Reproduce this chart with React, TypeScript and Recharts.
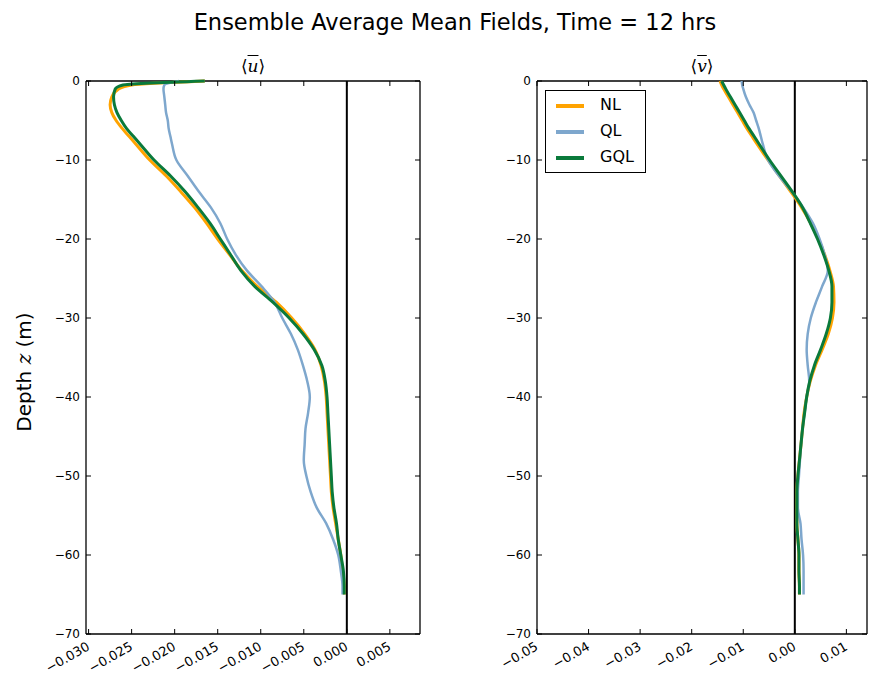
import React from 'react'
import { LineChart, Line, XAxis, YAxis, ReferenceLine, Legend } from 'recharts'

// depth levels (m), shared by every profile
const depth = [0, -0.5, -1, -2, -3, -4, -5, -6, -7, -8, -10, -12, -14, -16, -18, -20, -22, -24, -26, -28, -30, -32, -34, -36, -38, -40, -42, -44, -46, -48, -50, -52, -54, -56, -58, -60, -62, -64, -65]

// <u> profiles
const nlU = [-0.0165, -0.025, -0.0265, -0.0273, -0.0275, -0.0273, -0.0268, -0.0261, -0.0253, -0.0245, -0.0229, -0.021, -0.0193, -0.0177, -0.0163, -0.015, -0.0136, -0.0122, -0.0104, -0.0082, -0.0064, -0.0049, -0.0037, -0.003, -0.0026, -0.0024, -0.0023, -0.0022, -0.0021, -0.002, -0.0019, -0.0018, -0.0016, -0.0013, -0.001, -0.0007, -0.0005, -0.0003, -0.0003]
const qlU = [-0.0195, -0.0212, -0.0213, -0.0212, -0.0211, -0.021, -0.0208, -0.0207, -0.0205, -0.0203, -0.0198, -0.0185, -0.0172, -0.0158, -0.0147, -0.0139, -0.0129, -0.0116, -0.0099, -0.0084, -0.0075, -0.0065, -0.0057, -0.0051, -0.0046, -0.0043, -0.0045, -0.0048, -0.0049, -0.005, -0.0047, -0.0042, -0.0035, -0.0024, -0.0016, -0.001, -0.0007, -0.0005, -0.0005]
const gqlU = [-0.0165, -0.026, -0.0269, -0.0271, -0.027, -0.0267, -0.0262, -0.0256, -0.0248, -0.024, -0.0224, -0.0205, -0.0188, -0.0173, -0.0159, -0.0147, -0.0135, -0.0123, -0.0107, -0.0086, -0.0067, -0.0051, -0.0038, -0.0029, -0.0025, -0.0023, -0.0022, -0.0021, -0.002, -0.0019, -0.0018, -0.0017, -0.0015, -0.0012, -0.001, -0.0007, -0.0004, -0.0003, -0.0003]

// <v> profiles
const nlV = [-0.0145, -0.0142, -0.0138, -0.0129, -0.012, -0.0111, -0.0102, -0.0093, -0.0083, -0.0073, -0.0052, -0.003, -0.0008, 0.0013, 0.0031, 0.0046, 0.0058, 0.0068, 0.0075, 0.0076, 0.0073, 0.0065, 0.0053, 0.004, 0.003, 0.0023, 0.0018, 0.0015, 0.0012, 0.0009, 0.0006, 0.0004, 0.0004, 0.0004, 0.0006, 0.0008, 0.0008, 0.0009, 0.0009]
const qlV = [-0.0103, -0.0102, -0.01, -0.0095, -0.0088, -0.008, -0.0075, -0.007, -0.0066, -0.0062, -0.0052, -0.0031, -0.0006, 0.0016, 0.0035, 0.0048, 0.0058, 0.0064, 0.0053, 0.0041, 0.0031, 0.0025, 0.0023, 0.0025, 0.0028, 0.0023, 0.0019, 0.0015, 0.0012, 0.001, 0.0008, 0.0006, 0.0006, 0.0011, 0.0013, 0.0016, 0.0017, 0.0017, 0.0017]
const gqlV = [-0.0142, -0.0138, -0.0134, -0.0125, -0.0116, -0.0107, -0.0098, -0.0089, -0.0079, -0.0069, -0.0049, -0.0027, -0.0005, 0.0015, 0.003, 0.0044, 0.0056, 0.0066, 0.0072, 0.0072, 0.0069, 0.0061, 0.005, 0.0038, 0.0029, 0.0023, 0.0019, 0.0015, 0.0012, 0.0009, 0.0006, 0.0004, 0.0004, 0.0004, 0.0006, 0.0008, 0.0008, 0.0009, 0.0009]

const uTicks = [-0.03, -0.025, -0.02, -0.015, -0.01, -0.005, 0, 0.005]
const vTicks = [-0.05, -0.04, -0.03, -0.02, -0.01, 0, 0.01]
const depthTicks = [0, -10, -20, -30, -40, -50, -60, -70]

const series = [
  { key: 'nl', name: 'NL', color: '#FFA300', width: 3 },
  { key: 'ql', name: 'QL', color: '#7EA7CD', width: 2.5 },
  { key: 'gql', name: 'GQL', color: '#0A7A3B', width: 3 },
]

const uRows = depth.map((z, i) => ({ z, nl: nlU[i], ql: qlU[i], gql: gqlU[i] }))
const vRows = depth.map((z, i) => ({ z, nl: nlV[i], ql: qlV[i], gql: gqlV[i] }))

const FONT = '"DejaVu Sans", sans-serif'
const H = 675
const TOP = 81
const BOTTOM = 634
const YW = 40
const TICK = 5

const minus = (s: string) => s.replace('-', '\u2212')

const XTick = ({ x, payload, digits }: any) => {
  const ax = x + 2
  const ay = BOTTOM + 15
  return (
    <g>
      <line x1={x} x2={x} y1={BOTTOM} y2={BOTTOM - TICK} stroke="#000" />
      <line x1={x} x2={x} y1={TOP} y2={TOP + TICK} stroke="#000" />
      <text x={ax} y={ay} textAnchor="end" fontSize={13} fontFamily={FONT} fill="#000" transform={`rotate(-30 ${ax} ${ay})`}>
        {minus(Number(payload.value).toFixed(digits))}
      </text>
    </g>
  )
}

const YTick = ({ y, payload, left, right }: any) => (
  <g>
    <line x1={left} x2={left + TICK} y1={y} y2={y} stroke="#000" />
    <line x1={right} x2={right - TICK} y1={y} y2={y} stroke="#000" />
    <text x={left - 6} y={y} dy="0.35em" textAnchor="end" fontSize={12} fontFamily={FONT} fill="#000">
      {minus(String(payload.value))}
    </text>
  </g>
)

const LegendBox = ({ payload }: any) => {
  const items = series.map((s) => (payload || []).find((p: any) => p.value === s.name)).filter(Boolean)
  return (
    <div style={{ border: '1.5px solid #000', background: '#fff', width: 99, height: 81, boxSizing: 'content-box', fontFamily: FONT, fontSize: 16 }}>
      {items.map((p: any, i: number) => (
        <div key={i} style={{ position: 'relative', height: 26, top: 1 }}>
          <div style={{ position: 'absolute', left: 10, top: 12, width: 28, height: 3.5, background: p.color }} />
          <div style={{ position: 'absolute', left: 54, top: 3, lineHeight: '20px' }}>{p.value}</div>
        </div>
      ))}
    </div>
  )
}

const Panel = ({ rows, domain, ticks, digits, left, width, plotLeft, plotRight, legend }: any) => (
  <div style={{ position: 'absolute', left, top: 0 }}>
    <LineChart
      width={width}
      height={H}
      data={rows}
      layout="vertical"
      margin={{ top: TOP, right: left + width - plotRight, bottom: 0, left: plotLeft - left - YW }}
    >
      <XAxis
        type="number"
        domain={domain}
        ticks={ticks}
        allowDataOverflow
        interval={0}
        height={H - BOTTOM}
        axisLine={{ stroke: '#000', strokeWidth: 1.3 }}
        tickLine={false}
        tick={(p: any) => <XTick {...p} digits={digits} />}
      />
      <YAxis
        type="number"
        dataKey="z"
        domain={[-70, 0]}
        ticks={depthTicks}
        reversed
        interval={0}
        width={YW}
        axisLine={{ stroke: '#000', strokeWidth: 1.3 }}
        tickLine={false}
        tick={(p: any) => <YTick {...p} left={plotLeft - left} right={plotRight - left} />}
      />
      <ReferenceLine y={0} stroke="#000" strokeWidth={1.3} />
      <ReferenceLine x={domain[1]} stroke="#000" strokeWidth={1.3} />
      <ReferenceLine x={0} stroke="#000" strokeWidth={2} />
      {series.map((s) => (
        <Line
          key={s.key}
          dataKey={s.key}
          name={s.name}
          type="monotone"
          stroke={s.color}
          strokeWidth={s.width}
          dot={false}
          isAnimationActive={false}
        />
      ))}
      {legend && (
        <Legend
          layout="vertical"
          align="center"
          verticalAlign="middle"
          content={<LegendBox />}
          wrapperStyle={{ left: 545 - left, top: 90, width: 102, height: 84 }}
        />
      )}
    </LineChart>
  </div>
)

const MeanBracket = ({ letter, cx }: any) => (
  <div style={{ position: 'absolute', left: cx, top: 56, transform: 'translateX(-50%)', fontFamily: '"DejaVu Serif", serif', fontSize: 17, whiteSpace: 'nowrap', lineHeight: '20px' }}>
    {'\u27E8'}
    <span style={{ fontStyle: 'italic', textDecoration: 'overline' }}>{letter}</span>
    {'\u27E9'}
  </div>
)

export default function App() {
  return (
    <div style={{ position: 'absolute', left: 0, top: 0, width: 869, height: 675, background: '#fff', overflow: 'hidden' }}>
      <div style={{ position: 'absolute', left: 455, top: 7, transform: 'translateX(-50%)', fontFamily: FONT, fontSize: 22.5, whiteSpace: 'nowrap', lineHeight: '30px' }}>
        Ensemble Average Mean Fields, Time = 12 hrs
      </div>
      <MeanBracket letter="u" cx={253} />
      <MeanBracket letter="v" cx={702} />
      <div style={{ position: 'absolute', left: 24, top: 372, transform: 'translate(-50%, -50%) rotate(-90deg)', fontFamily: FONT, fontSize: 20, whiteSpace: 'nowrap' }}>
        Depth <span style={{ fontFamily: '"DejaVu Serif", serif', fontStyle: 'italic' }}>z</span> (m)
      </div>
      <Panel rows={uRows} domain={[-0.0303, 0.0085]} ticks={uTicks} digits={3} left={0} width={440} plotLeft={86} plotRight={420} />
      <Panel rows={vRows} domain={[-0.05, 0.014]} ticks={vTicks} digits={2} left={440} width={429} plotLeft={537} plotRight={867} legend />
    </div>
  )
}
